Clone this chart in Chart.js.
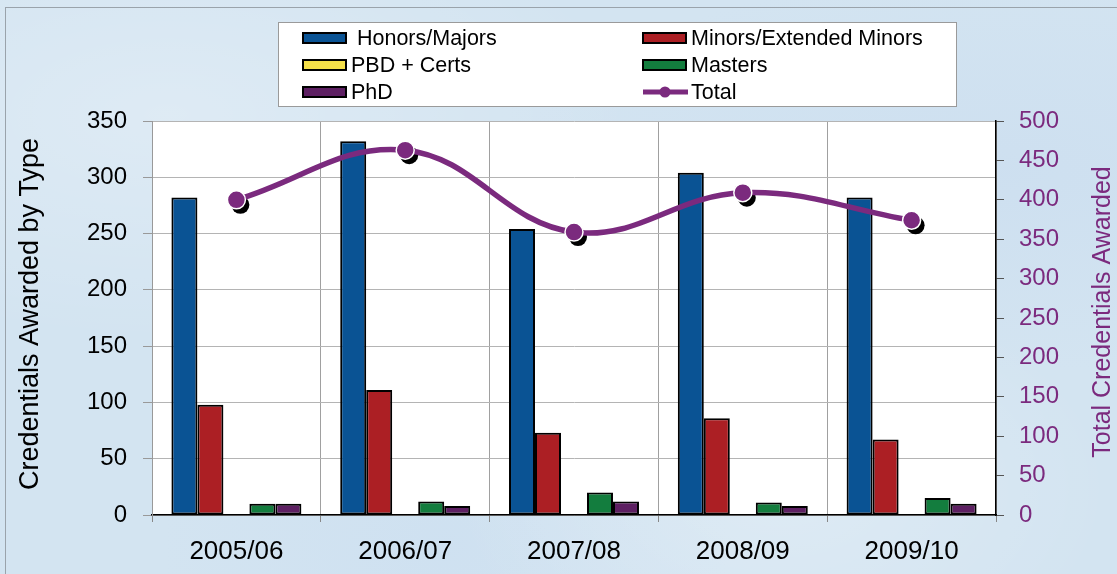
<!DOCTYPE html>
<html>
<head>
<meta charset="utf-8">
<title>Credentials Awarded</title>
<script src="https://cdn.jsdelivr.net/npm/chart.js@4/dist/chart.umd.min.js"></script>
<style>
    html, body {
        margin: 0;
        padding: 0;
        width: 1117px;
        height: 574px;
        overflow: hidden;
    }
    body {
        background-color: #d3e4f1;
        background-image:
            radial-gradient(ellipse at 15% 20%, rgba(255, 255, 255, 0.25), transparent 35%),
            radial-gradient(ellipse at 70% 85%, rgba(255, 255, 255, 0.25), transparent 30%),
            radial-gradient(ellipse at 90% 30%, rgba(195, 215, 238, 0.35), transparent 35%),
            radial-gradient(ellipse at 40% 95%, rgba(200, 220, 240, 0.4), transparent 30%);
    }
    #wrap {
        position: absolute;
        left: 0;
        top: 0;
        width: 1117px;
        height: 574px;
    }
</style>
</head>
<body>
<div id="wrap">
    <canvas id="credentials-chart" width="1117" height="574"></canvas>
</div>
<script>
// Chart data
const categories = ['2005/06', '2006/07', '2007/08', '2008/09', '2009/10'];
const honorsMajors = [282, 332, 254, 304, 282];
const minorsExtended = [98, 111, 73, 86, 67];
const pbdCerts = [0, 0, 0, 0, 0];
const masters = [10, 12, 20, 11, 15];
const phd = [10, 8, 12, 8, 10];
const totals = [400, 463, 359, 409, 374];

const leftTicks = [0, 50, 100, 150, 200, 250, 300, 350];
const rightTicks = [0, 50, 100, 150, 200, 250, 300, 350, 400, 450, 500];

(function() {
    'use strict';

    const FONT = "'Liberation Sans', Arial, sans-serif";
    const PURPLE = '#7b2a7e';

    /**
     * White plot area and outer frame
     */
    const backdropPlugin = {
        id: 'backdrop',
        beforeDraw: function(chart) {
            const ctx = chart.ctx;
            const area = chart.chartArea;
            ctx.save();
            ctx.strokeStyle = '#9aa3ab';
            ctx.lineWidth = 1;
            ctx.strokeRect(5.5, 7.5, 1200, 600);
            ctx.fillStyle = '#ffffff';
            ctx.fillRect(area.left, area.top, area.right - area.left, area.bottom - area.top);
            ctx.restore();
        }
    };

    /**
     * Drop shadow under the total markers
     */
    const markerShadowPlugin = {
        id: 'markerShadow',
        beforeDatasetDraw: function(chart, args) {
            if (chart.data.datasets[args.index].type !== 'line') {
                return;
            }
            const ctx = chart.ctx;
            ctx.save();
            ctx.fillStyle = '#000000';
            args.meta.data.forEach(function(pt) {
                ctx.beginPath();
                ctx.arc(pt.x + 4, pt.y + 5, 9, 0, Math.PI * 2);
                ctx.fill();
            });
            ctx.restore();
        }
    };

    /**
     * Axis titles (both read bottom to top) and the boxed legend
     */
    const decorPlugin = {
        id: 'decor',
        afterDraw: function(chart) {
            const ctx = chart.ctx;
            ctx.save();

            // Axis titles
            ctx.textAlign = 'center';
            ctx.textBaseline = 'middle';
            ctx.font = '27px ' + FONT;
            ctx.fillStyle = '#000000';
            ctx.translate(31, 314);
            ctx.rotate(-Math.PI / 2);
            ctx.fillText('Credentials Awarded by Type', 0, 0);
            ctx.setTransform(1, 0, 0, 1, 0, 0);

            ctx.font = '25px ' + FONT;
            ctx.fillStyle = PURPLE;
            ctx.translate(1103, 312);
            ctx.rotate(-Math.PI / 2);
            ctx.fillText('Total Credentials Awarded', 0, 0);
            ctx.setTransform(1, 0, 0, 1, 0, 0);

            // Legend box
            ctx.fillStyle = '#ffffff';
            ctx.fillRect(278, 22, 678, 84);
            ctx.strokeStyle = '#9a9a9a';
            ctx.lineWidth = 1;
            ctx.strokeRect(278.5, 22.5, 678, 84);

            const ds = chart.data.datasets;
            const slots = [
                { i: 0, x: 303, y: 38, label: ' Honors/Majors' },
                { i: 1, x: 643, y: 38, label: 'Minors/Extended Minors' },
                { i: 2, x: 303, y: 65, label: 'PBD + Certs' },
                { i: 3, x: 643, y: 65, label: 'Masters' },
                { i: 4, x: 303, y: 92, label: 'PhD' },
                { i: 5, x: 643, y: 92, label: 'Total' }
            ];

            ctx.font = '21.5px ' + FONT;
            ctx.textAlign = 'left';
            ctx.textBaseline = 'middle';
            slots.forEach(function(s) {
                const d = ds[s.i];
                if (d.type === 'line') {
                    ctx.strokeStyle = d.borderColor;
                    ctx.lineWidth = 5;
                    ctx.beginPath();
                    ctx.moveTo(s.x, s.y);
                    ctx.lineTo(s.x + 45, s.y);
                    ctx.stroke();
                    ctx.fillStyle = d.borderColor;
                    ctx.beginPath();
                    ctx.arc(s.x + 22, s.y, 5.5, 0, Math.PI * 2);
                    ctx.fill();
                } else {
                    ctx.fillStyle = d.backgroundColor;
                    ctx.fillRect(s.x, s.y - 5, 43, 10);
                    ctx.strokeStyle = '#000000';
                    ctx.lineWidth = 2;
                    ctx.strokeRect(s.x, s.y - 5, 43, 10);
                }
                ctx.fillStyle = '#000000';
                ctx.fillText(s.label, s.x + 48, s.y + 1);
            });

            ctx.restore();
        }
    };

    function barSet(label, data, color) {
        return {
            type: 'bar',
            label: label,
            data: data,
            backgroundColor: color,
            borderColor: '#000000',
            borderWidth: 2,
            borderSkipped: false,
            categoryPercentage: 0.77,
            barPercentage: 1.0,
            yAxisID: 'y',
            order: 1
        };
    }

    const ctx = document.getElementById('credentials-chart').getContext('2d');
    new Chart(ctx, {
        data: {
            labels: categories,
            datasets: [
                barSet('Honors/Majors', honorsMajors, '#0a5394'),
                barSet('Minors/Extended Minors', minorsExtended, '#ac1f24'),
                barSet('PBD + Certs', pbdCerts, '#f5e04a'),
                barSet('Masters', masters, '#137d3e'),
                barSet('PhD', phd, '#5d1f62'),
                {
                    type: 'line',
                    label: 'Total',
                    data: totals,
                    borderColor: PURPLE,
                    backgroundColor: PURPLE,
                    borderWidth: 5.5,
                    tension: 0.4,
                    pointRadius: 9,
                    pointBackgroundColor: PURPLE,
                    pointBorderColor: '#ffffff',
                    pointBorderWidth: 1.5,
                    yAxisID: 'y1',
                    order: 0
                }
            ]
        },
        options: {
            responsive: false,
            animation: false,
            devicePixelRatio: 1,
            layout: {
                padding: { top: 121, left: 0, right: 0, bottom: 0 }
            },
            plugins: {
                legend: { display: false },
                tooltip: { enabled: false }
            },
            scales: {
                x: {
                    offset: true,
                    grid: {
                        offset: true,
                        color: '#a0a0a0',
                        tickColor: '#888888',
                        tickLength: 7,
                        lineWidth: 1
                    },
                    border: { color: '#000000', width: 1.5 },
                    ticks: {
                        color: '#000000',
                        padding: 14,
                        font: { family: FONT, size: 26 },
                        maxRotation: 0
                    },
                    afterFit: function(scale) {
                        scale.height = 59;
                    }
                },
                y: {
                    position: 'left',
                    min: 0,
                    max: 350,
                    afterBuildTicks: function(scale) {
                        scale.ticks = leftTicks.map(function(v) { return { value: v }; });
                    },
                    grid: {
                        color: '#b4b4b4',
                        tickColor: '#999999',
                        tickLength: 9,
                        lineWidth: 1
                    },
                    border: { color: '#999999', width: 1 },
                    ticks: {
                        color: '#000000',
                        padding: 16,
                        font: { family: FONT, size: 24 }
                    },
                    afterFit: function(scale) {
                        scale.width = 152;
                    }
                },
                y1: {
                    position: 'right',
                    min: 0,
                    max: 500,
                    afterBuildTicks: function(scale) {
                        scale.ticks = rightTicks.map(function(v) { return { value: v }; });
                    },
                    grid: {
                        drawOnChartArea: false,
                        tickColor: '#555555',
                        tickLength: 8
                    },
                    border: { color: '#000000', width: 1.5 },
                    ticks: {
                        color: PURPLE,
                        padding: 15,
                        font: { family: FONT, size: 24 }
                    },
                    afterFit: function(scale) {
                        scale.width = 121;
                    }
                }
            }
        },
        plugins: [backdropPlugin, markerShadowPlugin, decorPlugin]
    });
})();
</script>
</body>
</html>
